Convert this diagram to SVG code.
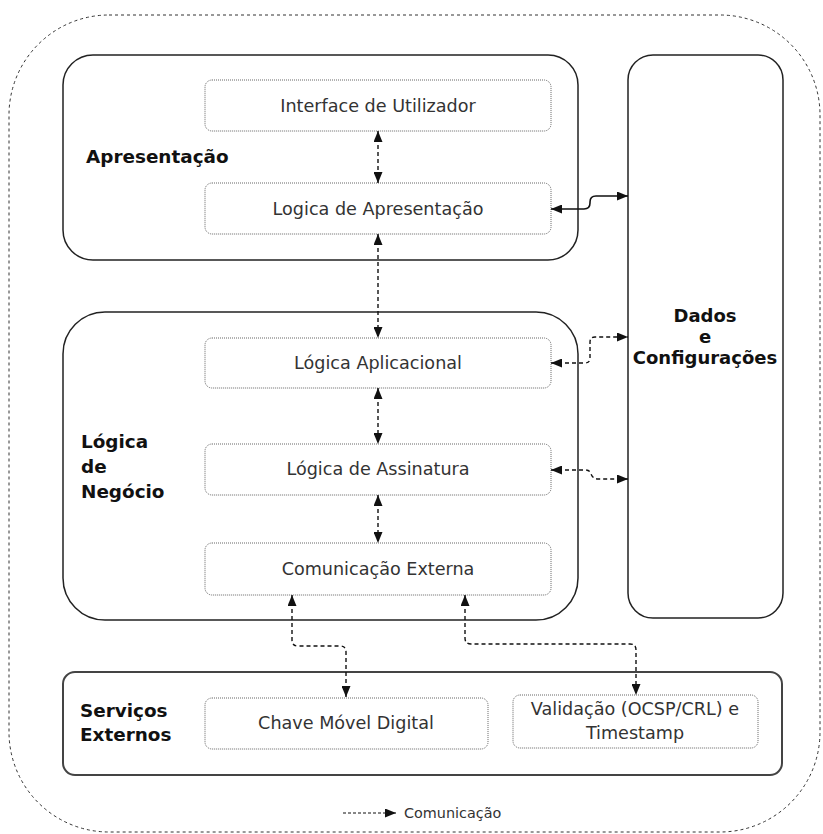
<svg xmlns="http://www.w3.org/2000/svg" width="823" height="834" viewBox="0 0 823 834">
  <style>
    .frame { fill: none; stroke: #333; stroke-width: 1; stroke-dasharray: 3 3; }
    .layer { fill: #fff; stroke: #222; stroke-width: 1.5; }
    .node { fill: #fff; stroke: #666; stroke-width: 1; stroke-dasharray: 1 1; }
    .label { font-family: "DejaVu Sans", Verdana, sans-serif; font-size: 17.6px; fill: #333; text-anchor: middle; }
    .title { font-family: "DejaVu Sans", Verdana, sans-serif; font-size: 18.4px; font-weight: bold; fill: #111; }
    .link { fill: none; stroke: #111; stroke-width: 1.4; stroke-dasharray: 4 3; marker-start: url(#arrow); marker-end: url(#arrow); }
    .solid { fill: none; stroke: #111; stroke-width: 1.6; marker-start: url(#arrow); marker-end: url(#arrow); }
    .legend { font-family: "DejaVu Sans", Verdana, sans-serif; font-size: 14.4px; fill: #333; }
  </style>
  <defs>
    <marker id="arrow" viewBox="0 0 11 9" refX="11" refY="4.5" markerWidth="11" markerHeight="9" markerUnits="userSpaceOnUse" orient="auto-start-reverse">
      <path d="M0,0 L11,4.5 L0,9 Z" fill="#111"/>
    </marker>
    <marker id="arrowEnd" viewBox="0 0 11 9" refX="11" refY="4.5" markerWidth="11" markerHeight="9" markerUnits="userSpaceOnUse" orient="auto">
      <path d="M0,0 L11,4.5 L0,9 Z" fill="#111"/>
    </marker>
  </defs>

  <rect width="823" height="834" fill="#fff"/>

  <!-- system boundary -->
  <rect class="frame" x="9" y="15" width="811" height="817" rx="100" ry="100"/>

  <!-- layers -->
  <g id="apresentacao">
    <rect class="layer" x="63" y="55" width="515" height="205" rx="30"/>
    <text class="title" x="86" y="163">Apresentação</text>
  </g>
  <g id="logica-negocio">
    <rect class="layer" x="63" y="312" width="515" height="308" rx="42"/>
    <text class="title" x="81" y="448">Lógica</text>
    <text class="title" x="81" y="473">de</text>
    <text class="title" x="81" y="498">Negócio</text>
  </g>
  <g id="dados-configuracoes">
    <rect class="layer" x="628" y="55" width="155" height="563" rx="25"/>
    <text class="title" x="705" y="322" text-anchor="middle" style="font-size:18px">Dados</text>
    <text class="title" x="705" y="343" text-anchor="middle" style="font-size:18px">e</text>
    <text class="title" x="705" y="364" text-anchor="middle" style="font-size:18px">Configurações</text>
  </g>
  <g id="servicos-externos">
    <rect class="layer" x="63" y="672" width="719" height="103" rx="12" style="stroke:#444;stroke-width:2"/>
    <text class="title" x="80" y="717">Serviços</text>
    <text class="title" x="80" y="741">Externos</text>
  </g>

  <!-- components -->
  <g id="interface-utilizador">
    <rect class="node" x="205" y="80" width="346" height="51" rx="7"/>
    <text class="label" x="378" y="112">Interface de Utilizador</text>
  </g>
  <g id="logica-apresentacao">
    <rect class="node" x="205" y="183" width="346" height="51" rx="7"/>
    <text class="label" x="378" y="215">Logica de Apresentação</text>
  </g>
  <g id="logica-aplicacional">
    <rect class="node" x="205" y="338" width="346" height="50" rx="7"/>
    <text class="label" x="378" y="369">Lógica Aplicacional</text>
  </g>
  <g id="logica-assinatura">
    <rect class="node" x="205" y="444" width="346" height="51" rx="7"/>
    <text class="label" x="378" y="475">Lógica de Assinatura</text>
  </g>
  <g id="comunicacao-externa">
    <rect class="node" x="205" y="543" width="346" height="52" rx="7"/>
    <text class="label" x="378" y="575">Comunicação Externa</text>
  </g>
  <g id="chave-movel-digital">
    <rect class="node" x="205" y="698" width="283" height="51" rx="7"/>
    <text class="label" x="346" y="729">Chave Móvel Digital</text>
  </g>
  <g id="validacao-timestamp">
    <rect class="node" x="513" y="695" width="245" height="53" rx="7"/>
    <text class="label" x="635" y="715">Validação (OCSP/CRL) e</text>
    <text class="label" x="635" y="739">Timestamp</text>
  </g>

  <!-- connectors -->
  <g id="connectors">
    <path class="link" d="M378,131 L378,183"/>
    <path class="link" d="M378,234 L378,338"/>
    <path class="link" d="M378,388 L378,444"/>
    <path class="link" d="M378,495 L378,543"/>
    <path class="solid" d="M551,209 L584,209 Q590,209 590,203 L590,202 Q590,196 596,196 L628,196"/>
    <path class="link" d="M551,363 L585,363 Q590,363 590,358 L590,342 Q590,337 595,337 L628,337"/>
    <path class="link" d="M551,470 L585,470 Q590,470 591,474 Q593,479 598,479 L628,479"/>
    <path class="link" d="M292,595 L292,640 Q292,646 298,646 L340,646 Q346,646 346,652 L346,697"/>
    <path class="link" d="M465,595 L465,638 Q465,644 471,644 L630,644 Q636,644 636,650 L636,695"/>
  </g>

  <!-- legend -->
  <g id="legend">
    <path d="M343,813 L396,813" fill="none" stroke="#111" stroke-width="1.2" stroke-dasharray="3 2" marker-end="url(#arrowEnd)"/>
    <text class="legend" x="404" y="818">Comunicação</text>
  </g>
</svg>
